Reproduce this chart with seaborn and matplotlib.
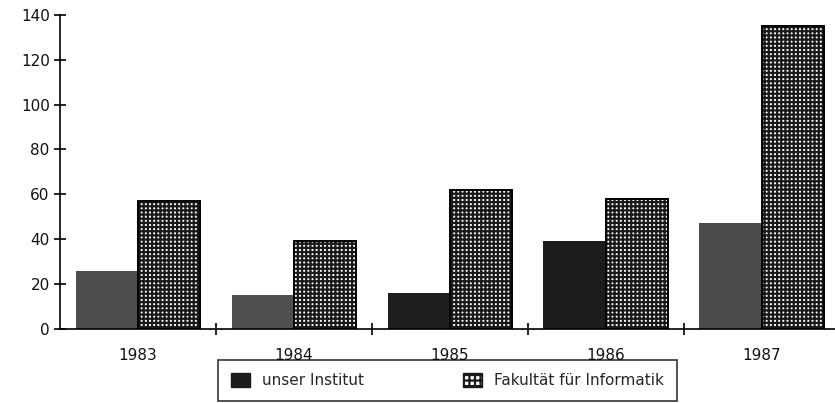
import pandas as pd
import matplotlib.pyplot as plt
import seaborn as sns
from matplotlib.patches import Patch, Rectangle

years = ['1983', '1984', '1985', '1986', '1987']
institut = [26, 15, 16, 39, 47]
fakultaet = [57, 39, 62, 58, 135]
series_names = ['unser Institut', 'Fakultät für Informatik']

df = pd.DataFrame({
    'Jahr': years * 2,
    'Wert': institut + fakultaet,
    'Reihe': [series_names[0]] * len(years) + [series_names[1]] * len(years),
})

sns.set_theme(style='white')
plt.rcParams['font.family'] = ['DejaVu Sans']
plt.rcParams['hatch.linewidth'] = 1.6

fig = plt.figure(figsize=(8.35, 4.03), dpi=100)
ax = fig.add_axes([0.072, 0.184, 0.928, 0.779])

sns.barplot(data=df, x='Jahr', y='Wert', hue='Reihe', hue_order=series_names,
            palette=['#3a3a3a', '#222222'], width=0.8, saturation=1,
            legend=False, ax=ax)

# scan shades of the institute bars
inst_shades = ['#4d4d4d', '#505050', '#1e1e1e', '#1c1c1c', '#4a4a4a']
for patch, shade in zip(ax.containers[0], inst_shades):
    patch.set_facecolor(shade)
    patch.set_edgecolor(shade)
    patch.set_linewidth(0)

# dotted faculty bars: dark mesh with white holes, black outline
for patch in ax.containers[1]:
    patch.set_facecolor('white')
    patch.set_edgecolor('#1a1a1a')
    patch.set_hatch('++++')
    patch.set_linewidth(0)
    ax.add_patch(Rectangle(patch.get_xy(), patch.get_width(), patch.get_height(),
                           fill=False, edgecolor='black', linewidth=1.4))

ax.set_ylim(0, 140)
ax.set_xlim(-0.5, 4.47)
ax.set_yticks(range(0, 141, 20))
ax.set_xlabel('')
ax.set_ylabel('')

sns.despine(ax=ax, top=True, right=True)
ax.spines['left'].set_color('black')
ax.spines['bottom'].set_color('black')
ax.spines['left'].set_linewidth(1.2)
ax.spines['bottom'].set_linewidth(1.2)

ax.tick_params(axis='y', direction='inout', length=9, width=1.2, color='black',
               labelsize=11, pad=3, left=True, labelcolor='#111111')
ax.tick_params(axis='x', which='major', length=0, labelsize=11, pad=14,
               labelcolor='#111111')
ax.set_xticks([i + 0.5 for i in range(len(years) - 1)], minor=True)
ax.tick_params(axis='x', which='minor', direction='inout', length=9, width=1.2,
               color='black', bottom=True)

handles = [
    Patch(facecolor='#1c1c1c', edgecolor='#1c1c1c', label=series_names[0]),
    Patch(facecolor='white', edgecolor='#1a1a1a', hatch='+++', label=series_names[1]),
]
leg = fig.legend(handles=handles, loc='lower center', bbox_to_anchor=(0.536, 0.005),
                 ncol=2, frameon=True, fancybox=False, fontsize=11,
                 columnspacing=6.5, handlelength=1.2, handleheight=1.0,
                 handletextpad=0.8, borderpad=0.85, borderaxespad=0)
leg.get_frame().set_edgecolor('black')
leg.get_frame().set_linewidth(1.2)

fig.savefig('out.png', dpi=100, facecolor='white')
